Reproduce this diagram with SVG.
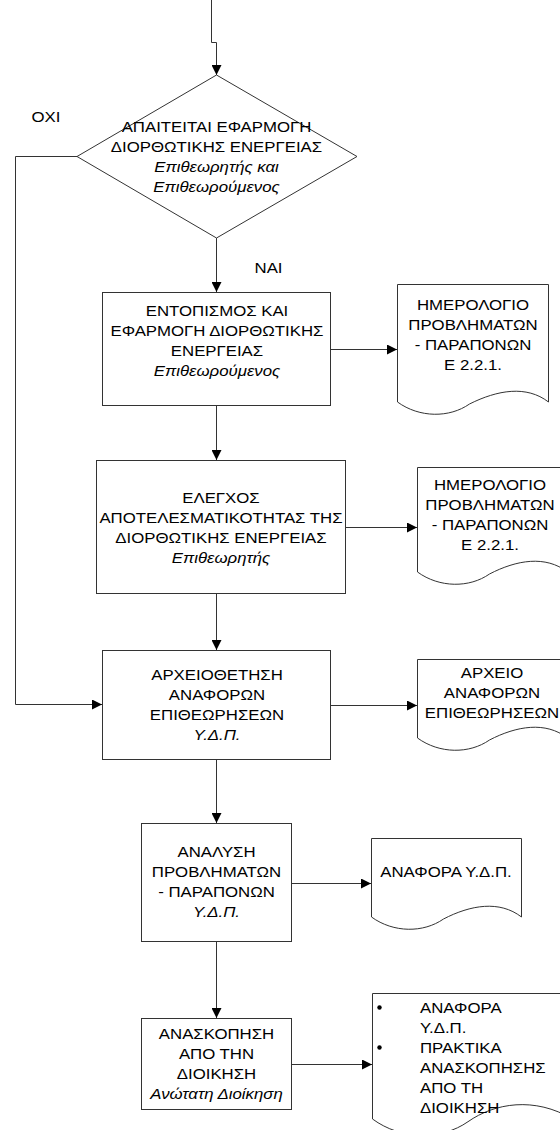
<svg xmlns="http://www.w3.org/2000/svg" width="560" height="1130" viewBox="0 0 560 1130">
  <style>
    .shape { fill: #fff; stroke: #333; stroke-width: 1; }
    .wire { fill: none; stroke: #333; stroke-width: 1; }
    .t { font-family: "Liberation Sans", Arial, sans-serif; font-size: 15px; fill: #000; text-anchor: middle; }
    .l { text-anchor: start; }
    .i { font-style: italic; }
  </style>
  <defs>
    <marker id="arrow" markerUnits="userSpaceOnUse" markerWidth="10" markerHeight="10" refX="10" refY="5" orient="auto">
      <path d="M0,0 L10,5 L0,10 z" fill="#000"/>
    </marker>
  </defs>

  <rect width="560" height="1130" fill="#fff"/>

  <!-- connectors -->
  <g id="connectors" class="wire" marker-end="url(#arrow)">
    <path d="M211.5,0 V42.5 H216.5 V75"/>
    <path d="M216.5,238 V292"/>
    <path d="M216.5,405.5 V460"/>
    <path d="M216.5,593.5 V650"/>
    <path d="M216.5,759.5 V823"/>
    <path d="M216.5,941.5 V1018"/>
    <path d="M330.5,349.5 H397"/>
    <path d="M345.5,527.5 H417"/>
    <path d="M330.5,705.5 H417"/>
    <path d="M291.5,883.5 H371"/>
    <path d="M291.5,1064.5 H372"/>
    <path d="M77,156.5 H15.5 V704.5 H102"/>
  </g>

  <!-- labels on the decision branches -->
  <g id="branch-labels">
    <text class="t" transform="translate(46 0) scale(1.12 1)" x="0" y="122">ΟΧΙ</text>
    <text class="t" transform="translate(268.5 0) scale(1.12 1)" x="0" y="273">ΝΑΙ</text>
  </g>

  <!-- decision -->
  <g id="decision">
    <path class="shape" d="M216.5,75 L357,156.5 L216.5,238 L77,156.5 Z"/>
    <g transform="translate(216.5 0) scale(1.12 1)">
      <text class="t" x="0" y="132">ΑΠΑΙΤΕΙΤΑΙ ΕΦΑΡΜΟΓΗ</text>
      <text class="t" x="0" y="152">ΔΙΟΡΘΩΤΙΚΗΣ ΕΝΕΡΓΕΙΑΣ</text>
      <text class="t i" x="0" y="172">Επιθεωρητής και</text>
      <text class="t i" x="0" y="192">Επιθεωρούμενος</text>
    </g>
  </g>

  <!-- process: corrective action -->
  <g id="corrective-action">
    <rect class="shape" x="102.5" y="292.5" width="228" height="113"/>
    <g transform="translate(217 0) scale(1.12 1)">
      <text class="t" x="0" y="316">ΕΝΤΟΠΙΣΜΟΣ ΚΑΙ</text>
      <text class="t" x="0" y="336">ΕΦΑΡΜΟΓΗ ΔΙΟΡΘΩΤΙΚΗΣ</text>
      <text class="t" x="0" y="356">ΕΝΕΡΓΕΙΑΣ</text>
      <text class="t i" x="0" y="376">Επιθεωρούμενος</text>
    </g>
  </g>

  <!-- document: problem log -->
  <g id="problem-log-1">
    <path class="shape" d="M397.5,284.5 H548.5 V402 C526.5,385 497.5,390 469.5,404 C449.5,418 419.5,418 397.5,402 Z"/>
    <g transform="translate(473 0) scale(1.12 1)">
      <text class="t" x="0" y="310">ΗΜΕΡΟΛΟΓΙΟ</text>
      <text class="t" x="0" y="330">ΠΡΟΒΛΗΜΑΤΩΝ</text>
      <text class="t" x="0" y="350">- ΠΑΡΑΠΟΝΩΝ</text>
      <text class="t" x="0" y="370">Ε 2.2.1.</text>
    </g>
  </g>

  <!-- process: effectiveness check -->
  <g id="effectiveness-check">
    <rect class="shape" x="96.5" y="460.5" width="249" height="133"/>
    <g transform="translate(221 0) scale(1.12 1)">
      <text class="t" x="0" y="503">ΕΛΕΓΧΟΣ</text>
      <text class="t" x="0" y="523">ΑΠΟΤΕΛΕΣΜΑΤΙΚΟΤΗΤΑΣ ΤΗΣ</text>
      <text class="t" x="0" y="543">ΔΙΟΡΘΩΤΙΚΗΣ ΕΝΕΡΓΕΙΑΣ</text>
      <text class="t i" x="0" y="563">Επιθεωρητής</text>
    </g>
  </g>

  <!-- document: problem log -->
  <g id="problem-log-2">
    <path class="shape" d="M417.5,467.5 H567.5 V572 C545.5,555 516.5,560 489.5,574 C469.5,588 439.5,588 417.5,572 Z"/>
    <g transform="translate(490 0) scale(1.12 1)">
      <text class="t" x="0" y="490">ΗΜΕΡΟΛΟΓΙΟ</text>
      <text class="t" x="0" y="510">ΠΡΟΒΛΗΜΑΤΩΝ</text>
      <text class="t" x="0" y="530">- ΠΑΡΑΠΟΝΩΝ</text>
      <text class="t" x="0" y="550">Ε 2.2.1.</text>
    </g>
  </g>

  <!-- process: filing of reports -->
  <g id="report-filing">
    <rect class="shape" x="102.5" y="650.5" width="228" height="109"/>
    <g transform="translate(217 0) scale(1.12 1)">
      <text class="t" x="0" y="680">ΑΡΧΕΙΟΘΕΤΗΣΗ</text>
      <text class="t" x="0" y="700">ΑΝΑΦΟΡΩΝ</text>
      <text class="t" x="0" y="720">ΕΠΙΘΕΩΡΗΣΕΩΝ</text>
      <text class="t i" x="0" y="740">Υ.Δ.Π.</text>
    </g>
  </g>

  <!-- document: inspection report archive -->
  <g id="report-archive">
    <path class="shape" d="M417.5,659.5 H567.5 V738 C545.5,721 516.5,726 489.5,740 C469.5,754 439.5,754 417.5,738 Z"/>
    <g transform="translate(492 0) scale(1.12 1)">
      <text class="t" x="0" y="678">ΑΡΧΕΙΟ</text>
      <text class="t" x="0" y="698">ΑΝΑΦΟΡΩΝ</text>
      <text class="t" x="0" y="718">ΕΠΙΘΕΩΡΗΣΕΩΝ</text>
    </g>
  </g>

  <!-- process: analysis -->
  <g id="problem-analysis">
    <rect class="shape" x="141.5" y="823.5" width="150" height="118"/>
    <g transform="translate(216.5 0) scale(1.12 1)">
      <text class="t" x="0" y="857">ΑΝΑΛΥΣΗ</text>
      <text class="t" x="0" y="877">ΠΡΟΒΛΗΜΑΤΩΝ</text>
      <text class="t" x="0" y="897">- ΠΑΡΑΠΟΝΩΝ</text>
      <text class="t i" x="0" y="917">Υ.Δ.Π.</text>
    </g>
  </g>

  <!-- document: report -->
  <g id="report">
    <path class="shape" d="M371.5,838.5 H521.5 V917 C499.5,900 470.5,905 443.5,919 C423.5,933 393.5,933 371.5,917 Z"/>
    <g transform="translate(446 0) scale(1.12 1)">
      <text class="t" x="0" y="877">ΑΝΑΦΟΡΑ Υ.Δ.Π.</text>
    </g>
  </g>

  <!-- process: management review -->
  <g id="management-review">
    <rect class="shape" x="141.5" y="1018.5" width="150" height="91"/>
    <g transform="translate(216.5 0) scale(1.12 1)">
      <text class="t" x="0" y="1039">ΑΝΑΣΚΟΠΗΣΗ</text>
      <text class="t" x="0" y="1059">ΑΠΟ ΤΗΝ</text>
      <text class="t" x="0" y="1079">ΔΙΟΙΚΗΣΗ</text>
      <text class="t i" x="0" y="1099">Ανώτατη Διοίκηση</text>
    </g>
  </g>

  <!-- document: review outputs -->
  <g id="review-outputs">
    <path class="shape" d="M372.5,993.5 H572.5 V1119 C534.6,1096.3 494.6,1103 468,1121.7 C441.4,1140.3 401.4,1140.3 372.5,1119 Z"/>
    <circle cx="379.5" cy="1007.5" r="2.2" fill="#000"/>
    <circle cx="379.5" cy="1047.5" r="2.2" fill="#000"/>
    <g transform="translate(420 0) scale(1.12 1)">
      <text class="t l" x="0" y="1013">ΑΝΑΦΟΡΑ</text>
      <text class="t l" x="0" y="1033">Υ.Δ.Π.</text>
      <text class="t l" x="0" y="1053">ΠΡΑΚΤΙΚΑ</text>
      <text class="t l" x="0" y="1073">ΑΝΑΣΚΟΠΗΣΗΣ</text>
      <text class="t l" x="0" y="1093">ΑΠΟ ΤΗ</text>
      <text class="t l" x="0" y="1113">ΔΙΟΙΚΗΣΗ</text>
    </g>
  </g>
</svg>
